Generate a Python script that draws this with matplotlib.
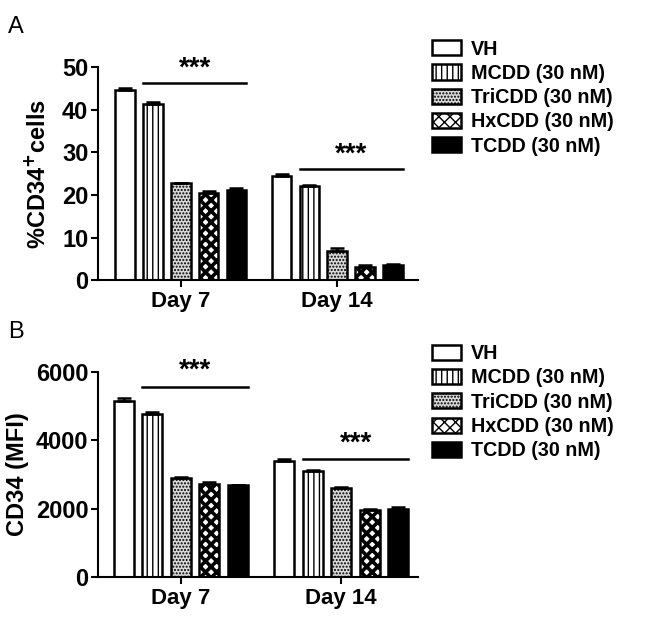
import numpy as np
import matplotlib
matplotlib.use('Agg')
import matplotlib.pyplot as plt
from matplotlib.patches import Patch

plt.rcParams['font.family'] = ['Liberation Sans', 'DejaVu Sans']
plt.rcParams['font.weight'] = 'bold'
plt.rcParams['hatch.linewidth'] = 1.0

# dane
days = ['Day 7', 'Day 14']
groups = ['VH', 'MCDD (30 nM)', 'TriCDD (30 nM)', 'HxCDD (30 nM)', 'TCDD (30 nM)']
pct_cd34 = [[44.5, 41.3, 22.7, 20.4, 21.1],
            [24.4, 22.1, 6.8, 3.2, 3.5]]
pct_err = [[0.5, 0.4, 0.2, 0.5, 0.5],
           [0.5, 0.2, 0.7, 0.3, 0.3]]
mfi_cd34 = [[5160, 4780, 2890, 2740, 2690],
            [3410, 3100, 2610, 1960, 2000]]
mfi_err = [[90, 60, 30, 30, 20],
           [50, 40, 30, 40, 50]]

faces = ['white', 'white', '#d9d9d9', 'white', 'black']
hatches = [None, '|||', '.....', 'xxx', None]
hatch_lw = [1.0, 1.0, 1.0, 2.6, 1.0]

fig = plt.figure(figsize=(6.45, 6.2), dpi=100)
axA = fig.add_axes([0.152, 0.548, 0.496, 0.344])
axB = fig.add_axes([0.152, 0.069, 0.496, 0.331])

step = 0.178
width = 0.125


def draw_panel(ax, vals, errs, ylim, yticks, xlim, sig):
    x = np.arange(len(days))
    for i, g in enumerate(groups):
        v = [vals[d][i] for d in range(len(days))]
        e = [errs[d][i] for d in range(len(days))]
        pos = x + (i - 2) * step
        with plt.rc_context({'hatch.linewidth': hatch_lw[i]}):
            ax.bar(pos, v, width, color=faces[i], edgecolor='black', linewidth=1.8,
                   hatch=hatches[i], zorder=2)
        ax.errorbar(pos, v, yerr=[np.zeros(len(e)), e], fmt='none', ecolor='black',
                    elinewidth=1.8, capsize=5, capthick=1.8, zorder=3)
    ax.set_ylim(*ylim)
    ax.set_yticks(yticks)
    ax.set_xlim(*xlim)
    ax.set_xticks(x)
    ax.set_xticklabels(days, fontsize=16, fontweight='bold')
    ax.tick_params(axis='y', labelsize=17, width=1.5, length=5, pad=2)
    ax.tick_params(axis='x', width=1.5, length=5, pad=3)
    for lbl in ax.get_yticklabels():
        lbl.set_fontweight('bold')
    ax.spines['top'].set_visible(False)
    ax.spines['right'].set_visible(False)
    ax.spines['left'].set_linewidth(1.5)
    ax.spines['bottom'].set_linewidth(1.5)
    # linie istotności
    for d in range(len(days)):
        x0 = d + (-1) * step - width / 2
        x1 = d + 2 * step + width / 2
        ax.plot([x0, x1], [sig[d][0], sig[d][0]], color='black', linewidth=1.8,
                clip_on=False)
        ax.text((x0 + x1) / 2, sig[d][1], '***', ha='center', va='center',
                fontsize=20, fontweight='bold')


draw_panel(axA, pct_cd34, pct_err, (0, 50), [0, 10, 20, 30, 40, 50],
           (-0.529, 1.516), [(46.2, 49.6), (26.0, 29.4)])
axA.set_ylabel('%CD34$^{\\mathbf{+}}$cells', fontsize=17, fontweight='bold')
axA.yaxis.set_label_coords(-0.15, 0.5)

draw_panel(axB, mfi_cd34, mfi_err, (0, 6000), [0, 2000, 4000, 6000],
           (-0.516, 1.478), [(5560, 6030), (3450, 3920)])
axB.set_ylabel('CD34 (MFI)', fontsize=17, fontweight='bold')
axB.yaxis.set_label_coords(-0.215, 0.5)

handles = []
for i in range(len(groups)):
    with plt.rc_context({'hatch.linewidth': hatch_lw[i]}):
        handles.append(Patch(facecolor=faces[i], edgecolor='black', hatch=hatches[i],
                             linewidth=1.8))
for ypos in [0.949, 0.458]:
    fig.legend(handles, groups, loc='upper left', bbox_to_anchor=(0.658, ypos),
               frameon=False, handlelength=1.45, handleheight=0.8,
               labelspacing=0.27, handletextpad=0.5, borderaxespad=0,
               prop={'weight': 'bold', 'size': 14.2})

fig.text(0.013, 0.957, 'A', fontsize=17, va='center', fontweight='normal')
fig.text(0.013, 0.465, 'B', fontsize=17, va='center', fontweight='normal')

plt.savefig('out.png', dpi=100)
